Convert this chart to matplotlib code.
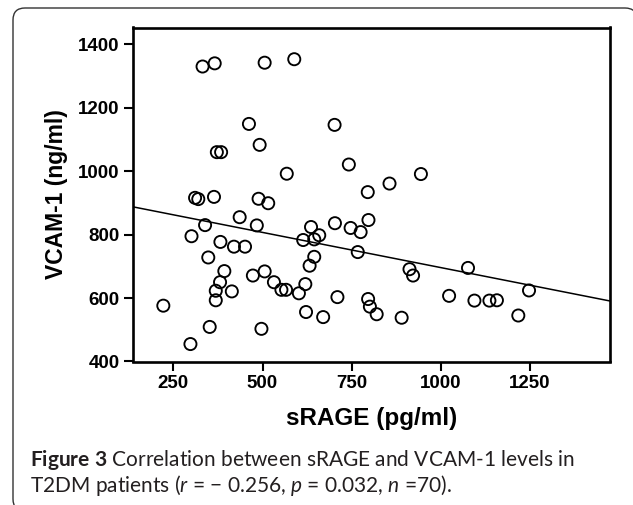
import numpy as np
import matplotlib
matplotlib.use("Agg")
import matplotlib.pyplot as plt
from matplotlib.patches import FancyBboxPatch

# ---- data ----
srage = [332, 366, 506, 589, 462, 702, 492, 372, 384, 742, 568, 944, 856, 795,
         311, 320, 364, 489, 516, 436, 484, 339, 797, 703, 636, 747, 775, 301,
         659, 614, 645, 382, 420, 451, 767, 348, 645, 632, 912, 922, 1076, 393,
         506, 473, 381, 532, 620, 553, 566, 369, 414, 602, 1247, 222, 369, 710,
         796, 1023, 1094, 1136, 1157, 801, 820, 622, 670, 890, 1217, 352, 497, 298]
vcam = [1330, 1340, 1342, 1353, 1149, 1146, 1083, 1060, 1060, 1021, 992, 991, 961, 934,
        916, 912, 919, 913, 899, 855, 829, 830, 846, 836, 824, 821, 808, 795,
        798, 783, 785, 777, 762, 762, 745, 728, 730, 702, 691, 671, 695, 685,
        684, 671, 650, 650, 644, 626, 626, 623, 621, 615, 624, 576, 593, 603,
        597, 607, 592, 592, 593, 573, 549, 556, 540, 538, 545, 509, 503, 455]
fit_intercept = 918.0
fit_slope = -0.222
x_ticks = [250, 500, 750, 1000, 1250]
y_ticks = [400, 600, 800, 1000, 1200, 1400]
x_label = "sRAGE (pg/ml)"
y_label = "VCAM-1 (ng/ml)"
caption_1 = r"$\mathbf{Figure\ 3}$ Correlation between sRAGE and VCAM-1 levels in"
caption_2 = r"T2DM patients ($\mathit{r}$ = − 0.256, $\mathit{p}$ = 0.032, $\mathit{n}$ =70)."

plt.rcParams['mathtext.fontset'] = 'custom'
plt.rcParams['mathtext.rm'] = 'Lato'
plt.rcParams['mathtext.it'] = 'Lato:italic'
plt.rcParams['mathtext.bf'] = 'Lato:bold'

W, H = 633, 505
fig = plt.figure(figsize=(W / 100, H / 100), dpi=100)
fig.patch.set_facecolor('white')

# rounded frame around the figure
box = FancyBboxPatch((0.13, -0.06), 6.24, 4.97 + 0.06,
                     boxstyle="round,pad=0,rounding_size=0.12",
                     transform=fig.dpi_scale_trans, facecolor='white',
                     edgecolor='#333333', linewidth=1.0, zorder=0)
fig.add_artist(box)

L, R, T, B = 133, 610, 27.5, 361.5
ax = fig.add_axes([L / W, 1 - B / H, (R - L) / W, (B - T) / H])
ax.set_xlim(137, 1474)
ax.set_ylim(400, 1453)

ax.scatter(srage, vcam, s=76, facecolors='none', edgecolors='black',
           linewidths=1.35, zorder=3)
xs = np.array(ax.get_xlim())
ax.plot(xs, fit_intercept + fit_slope * xs, color='black', lw=1.1, zorder=2)

for sp in ax.spines.values():
    sp.set_linewidth(1.9)
ax.set_xticks(x_ticks)
ax.set_yticks(y_ticks)
ax.tick_params(direction='out', length=6.5, width=1.5, pad=3, labelsize=13.5)
for lab in ax.get_xticklabels() + ax.get_yticklabels():
    lab.set_fontfamily('Liberation Sans')
    lab.set_fontweight('bold')

fig.text(371.5 / W, 1 - 418 / H, x_label, ha='center', va='center',
         fontsize=17.5, fontweight='bold', family='Liberation Sans')
fig.text(56 / W, 1 - 194.5 / H, y_label, ha='center', va='center', rotation=90,
         fontsize=16.5, fontweight='bold', family='Liberation Sans')

# caption, fitted to measured width
renderer = fig.canvas.get_renderer()
size0 = 13.0
t1 = fig.text(30 / W, 1 - 466 / H, caption_1, ha='left', va='baseline',
              fontsize=size0, family='Lato', color='#231f20')
w1 = t1.get_window_extent(renderer).width
size = size0 * 543 / w1
t1.set_fontsize(size)
fig.text(30 / W, 1 - 492 / H, caption_2, ha='left', va='baseline',
         fontsize=size, family='Lato', color='#231f20')

fig.savefig('out.png', dpi=100)
